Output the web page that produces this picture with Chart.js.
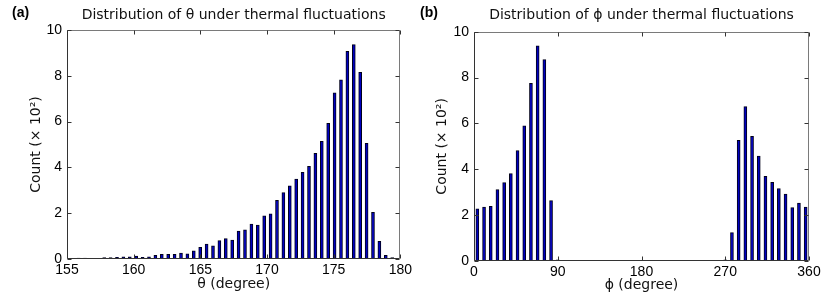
<!DOCTYPE html>
<html>
<head>
<meta charset="utf-8">
<script src="https://cdn.jsdelivr.net/npm/chart.js@4.4.1/dist/chart.umd.min.js"></script>
<style>
  body { margin: 0; background: #fff; width: 830px; height: 300px; overflow: hidden; position: relative; }
  canvas { position: absolute; top: 0; }
  #grafico-theta { left: 0; }
  #grafico-phi { left: 415px; }
</style>
</head>
<body>
<canvas id="grafico-theta" width="415" height="300"></canvas>
<canvas id="grafico-phi" width="415" height="300"></canvas>
<script>
// centros de los bins (grados) y cuentas (x 10^2)
const thetaBins = [155.87, 156.35, 156.83, 157.31, 157.79, 158.27, 158.75, 159.23, 159.71, 160.19,
  160.67, 161.15, 161.63, 162.11, 162.59, 163.07, 163.55, 164.03, 164.51, 164.99,
  165.47, 165.95, 166.43, 166.91, 167.39, 167.87, 168.35, 168.83, 169.31, 169.79,
  170.27, 170.75, 171.23, 171.71, 172.19, 172.67, 173.15, 173.63, 174.11, 174.59,
  175.07, 175.55, 176.03, 176.51, 176.99, 177.47, 177.95, 178.43, 178.91, 179.39];
const thetaCuentas = [0.04, 0.04, 0, 0, 0.06, 0.06, 0.07, 0.10, 0.10, 0.13,
  0.07, 0.10, 0.16, 0.20, 0.20, 0.20, 0.26, 0.23, 0.36, 0.51,
  0.65, 0.58, 0.80, 0.89, 0.83, 1.22, 1.27, 1.53, 1.48, 1.89,
  1.97, 2.56, 2.90, 3.20, 3.49, 3.78, 4.05, 4.61, 5.14, 5.92,
  7.26, 7.82, 9.07, 9.36, 8.15, 5.05, 2.04, 0.77, 0.16, 0.06];

const phiBins = [3.6, 10.8, 18, 25.2, 32.4, 39.6, 46.8, 54, 61.2, 68.4,
  75.6, 82.8, 90, 97.2, 104.4, 111.6, 118.8, 126, 133.2, 140.4,
  147.6, 154.8, 162, 169.2, 176.4, 183.6, 190.8, 198, 205.2, 212.4,
  219.6, 226.8, 234, 241.2, 248.4, 255.6, 262.8, 270, 277.2, 284.4,
  291.6, 298.8, 306, 313.2, 320.4, 327.6, 334.8, 342, 349.2, 356.4];
const phiCuentas = [2.28, 2.35, 2.38, 3.12, 3.42, 3.81, 4.82, 5.89, 7.75, 9.38,
  8.78, 2.64, 0.05, 0, 0, 0, 0, 0, 0, 0,
  0, 0, 0, 0, 0, 0, 0, 0, 0, 0,
  0, 0, 0, 0, 0, 0, 0, 0.05, 1.24, 5.26,
  6.73, 5.44, 4.58, 3.69, 3.43, 3.16, 2.92, 2.33, 2.53, 2.35];

const yTicks = [0, 2, 4, 6, 8, 10];
const thetaTicks = [155, 160, 165, 170, 175, 180];
const phiTicks = [0, 90, 180, 270, 360];

const fuenteTexto = "'DejaVu Sans', Verdana, sans-serif";
const fuenteNumeros = "'Liberation Sans', Arial, sans-serif";

// caja tipo matlab con ticks hacia adentro + etiqueta del panel
const cajaMatlab = {
  id: 'cajaMatlab',
  afterDatasetsDraw(chart, args, opts) {
    const {ctx, chartArea: a, scales: {x, y}} = chart;
    const L = Math.round(a.left) + 0.5;
    const R = Math.round(a.right) - 0.5;
    const T = Math.round(a.top) + 0.5;
    const B = Math.round(a.bottom) - 0.5;
    const largo = 4;
    ctx.save();
    ctx.lineWidth = 1;
    ctx.strokeStyle = '#7a7a7a';
    ctx.beginPath();
    ctx.moveTo(L, T); ctx.lineTo(R, T); ctx.lineTo(R, B);
    ctx.stroke();
    ctx.strokeStyle = '#333';
    ctx.beginPath();
    ctx.moveTo(L, T); ctx.lineTo(L, B); ctx.lineTo(R, B);
    ctx.stroke();
    ctx.beginPath();
    x.ticks.forEach(t => {
      const px = Math.round(x.getPixelForValue(t.value)) + 0.5;
      ctx.moveTo(px, B); ctx.lineTo(px, B - largo);
      ctx.moveTo(px, T); ctx.lineTo(px, T + largo);
    });
    y.ticks.forEach(t => {
      const py = Math.round(y.getPixelForValue(t.value)) + 0.5;
      ctx.moveTo(L, py); ctx.lineTo(L + largo, py);
      ctx.moveTo(R, py); ctx.lineTo(R - largo, py);
    });
    ctx.stroke();
    ctx.fillStyle = '#000';
    ctx.font = "bold 14px 'Liberation Sans', Arial, sans-serif";
    ctx.textBaseline = 'middle';
    ctx.fillText(opts.etiqueta, opts.x, opts.y);
    ctx.restore();
  }
};

const armarGrafico = (canvasId, bins, cuentas, xTicks, conf) => {
  const puntos = bins.map((b, i) => ({x: b, y: cuentas[i]}));
  return new Chart(document.getElementById(canvasId), {
    type: 'bar',
    data: {
      datasets: [{
        data: puntos,
        backgroundColor: '#0000c0',
        borderColor: '#000018',
        borderWidth: 1,
        barThickness: 3
      }]
    },
    plugins: [cajaMatlab],
    options: {
      responsive: false,
      animation: false,
      layout: {padding: {left: conf.padLeft, right: conf.padRight, top: 0, bottom: 0}},
      plugins: {
        legend: {display: false},
        tooltip: {enabled: false},
        title: {
          display: true,
          text: conf.titulo,
          fullSize: false,
          color: '#111',
          font: {family: fuenteTexto, size: 14, weight: 'normal'},
          padding: {top: 7, bottom: conf.padTitulo}
        },
        cajaMatlab: {etiqueta: conf.etiqueta, x: conf.etqX, y: 13}
      },
      scales: {
        x: {
          type: 'linear',
          min: xTicks[0],
          max: xTicks[xTicks.length - 1],
          offset: false,
          afterBuildTicks: (s) => { s.ticks = xTicks.map(v => ({value: v})); },
          afterFit: (s) => { s.height = conf.altoX; },
          grid: {display: false, drawTicks: false},
          border: {display: false},
          ticks: {color: '#000', padding: 3, maxRotation: 0, font: {family: fuenteNumeros, size: 14}},
          title: {display: true, text: conf.tituloX, color: '#111', padding: {top: 0, bottom: conf.padTituloX},
            font: {family: fuenteTexto, size: 14}}
        },
        y: {
          min: 0,
          max: 10,
          afterBuildTicks: (s) => { s.ticks = yTicks.map(v => ({value: v})); },
          afterFit: (s) => { s.width = conf.anchoY; },
          grid: {display: false, drawTicks: false},
          border: {display: false},
          ticks: {color: '#000', padding: 5, font: {family: fuenteNumeros, size: 14}},
          title: {display: true, text: 'Count (\u00d7 10\u00b2)', color: '#111', padding: {top: 4, bottom: 0},
            font: {family: fuenteTexto, size: 14}}
        }
      }
    }
  });
};

armarGrafico('grafico-theta', thetaBins, thetaCuentas, thetaTicks, {
  titulo: 'Distribution of \u03b8 under thermal fluctuations',
  tituloX: '\u03b8 (degree)',
  etiqueta: '(a)', etqX: 12,
  padLeft: 24, padRight: 14, anchoY: 43, altoX: 41, padTitulo: 6.2, padTituloX: 7.6
});

armarGrafico('grafico-phi', phiBins, phiCuentas, phiTicks, {
  titulo: 'Distribution of \u03d5 under thermal fluctuations',
  tituloX: '\u03d5 (degree)',
  etiqueta: '(b)', etqX: 5,
  padLeft: 15, padRight: 21, anchoY: 44, altoX: 39, padTitulo: 7.9, padTituloX: 6.6
});
</script>
</body>
</html>
